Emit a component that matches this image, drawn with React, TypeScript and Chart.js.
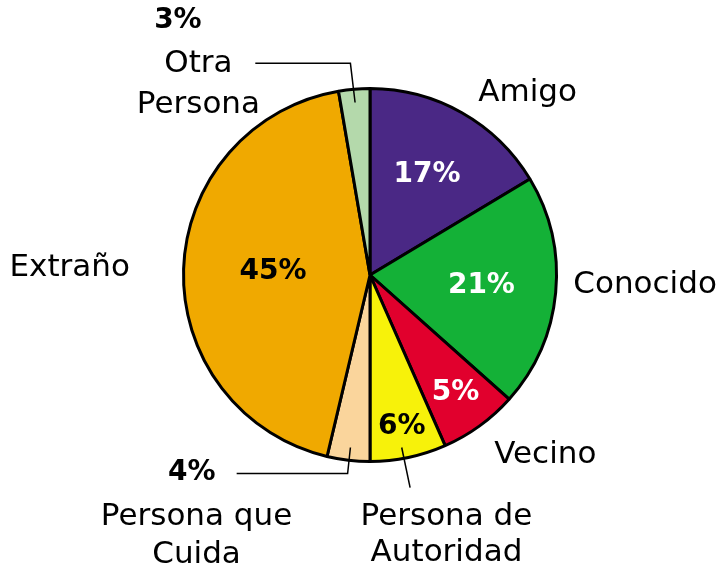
import React, { useEffect, useRef } from "react";
import { Chart, registerables } from "chart.js";

Chart.register(...registerables);

const categories = ["Amigo", "Conocido", "Vecino", "Persona de Autoridad", "Persona que Cuida", "Extraño", "Otra Persona"];
const values = [16.4, 20.2, 6.8, 6.6, 3.7, 43.6, 2.7];
const percentLabels = ["17%", "21%", "5%", "6%", "4%", "45%", "3%"];
const colors = ["#4a2885", "#14b137", "#e1002d", "#f7f20a", "#fad59c", "#f0a900", "#b4d9ab"];

const FONT = "'DejaVu Sans', sans-serif";

// label layout: offsets relative to pie center, in units of radius
const inside: Record<number, { r: number; color: string }> = {
  0: { r: 0.62, color: "#ffffff" },
  1: { r: 0.6, color: "#ffffff" },
  2: { r: 0.78, color: "#ffffff" },
  3: { r: 0.83, color: "#000000" },
  5: { r: 0.52, color: "#000000" },
};

const labelPlugin = {
  id: "pieLabels",
  afterDraw(chart: any) {
    const ctx = chart.ctx;
    const meta = chart.getDatasetMeta(0);
    const arc0 = meta.data[0] as any;
    const cx = arc0.x;
    const cy = arc0.y;
    const R = arc0.outerRadius;
    const P = (fx: number, fy: number) => [cx + fx * R, cy + fy * R];
    ctx.save();
    ctx.textAlign = "center";
    ctx.textBaseline = "middle";
    meta.data.forEach((a: any, i: number) => {
      const cfg = inside[i];
      if (!cfg) return;
      const mid = (a.startAngle + a.endAngle) / 2;
      ctx.fillStyle = cfg.color;
      ctx.font = `bold 28px ${FONT}`;
      ctx.fillText(percentLabels[i], cx + Math.cos(mid) * R * cfg.r, cy + Math.sin(mid) * R * cfg.r);
    });
    ctx.fillStyle = "#000";
    ctx.font = `31px ${FONT}`;
    const txt = (s: string, fx: number, fy: number) => {
      const [x, y] = P(fx, fy);
      ctx.fillText(s, x, y);
    };
    txt(categories[0], 0.845, -0.975);
    txt("Conocido", 1.475, 0.055);
    txt("Vecino", 0.94, 0.965);
    txt("Persona de", 0.41, 1.295);
    txt("Autoridad", 0.41, 1.49);
    txt("Persona que", -0.93, 1.295);
    txt("Cuida", -0.93, 1.5);
    txt("Extraño", -1.61, -0.04);
    txt("Otra", -0.92, -1.13);
    txt("Persona", -0.92, -0.91);
    ctx.font = `bold 28px ${FONT}`;
    txt(percentLabels[4], -0.955, 1.06);
    txt(percentLabels[6], -1.03, -1.365);
    ctx.strokeStyle = "#000";
    ctx.lineWidth = 1.5;
    const line = (pts: number[][]) => {
      ctx.beginPath();
      pts.forEach((p, k) => {
        const [x, y] = P(p[0], p[1]);
        if (k === 0) ctx.moveTo(x, y);
        else ctx.lineTo(x, y);
      });
      ctx.stroke();
    };
    line([[0.17, 0.925], [0.215, 1.14]]);
    line([[-0.105, 0.925], [-0.12, 1.065], [-0.715, 1.065]]);
    line([[-0.08, -0.925], [-0.105, -1.135], [-0.615, -1.135]]);
    ctx.restore();
  },
};

export default function App() {
  const ref = useRef<HTMLCanvasElement>(null);
  useEffect(() => {
    if (!ref.current) return;
    const chart = new Chart(ref.current, {
      type: "pie",
      data: {
        labels: categories,
        datasets: [
          {
            data: values,
            backgroundColor: colors,
            borderColor: "#000000",
            borderWidth: 3,
            borderAlign: "center",
          } as any,
        ],
      },
      options: {
        animation: false,
        responsive: true,
        maintainAspectRatio: false,
        layout: { padding: { left: 182, right: 164, top: 87, bottom: 114 } },
        plugins: { legend: { display: false }, tooltip: { enabled: false } },
      },
      plugins: [labelPlugin],
    });
    return () => chart.destroy();
  }, []);
  return (
    <div style={{ position: "fixed", left: 0, top: 0, width: 722, height: 577, background: "#fff" }}>
      <canvas ref={ref} />
    </div>
  );
}
